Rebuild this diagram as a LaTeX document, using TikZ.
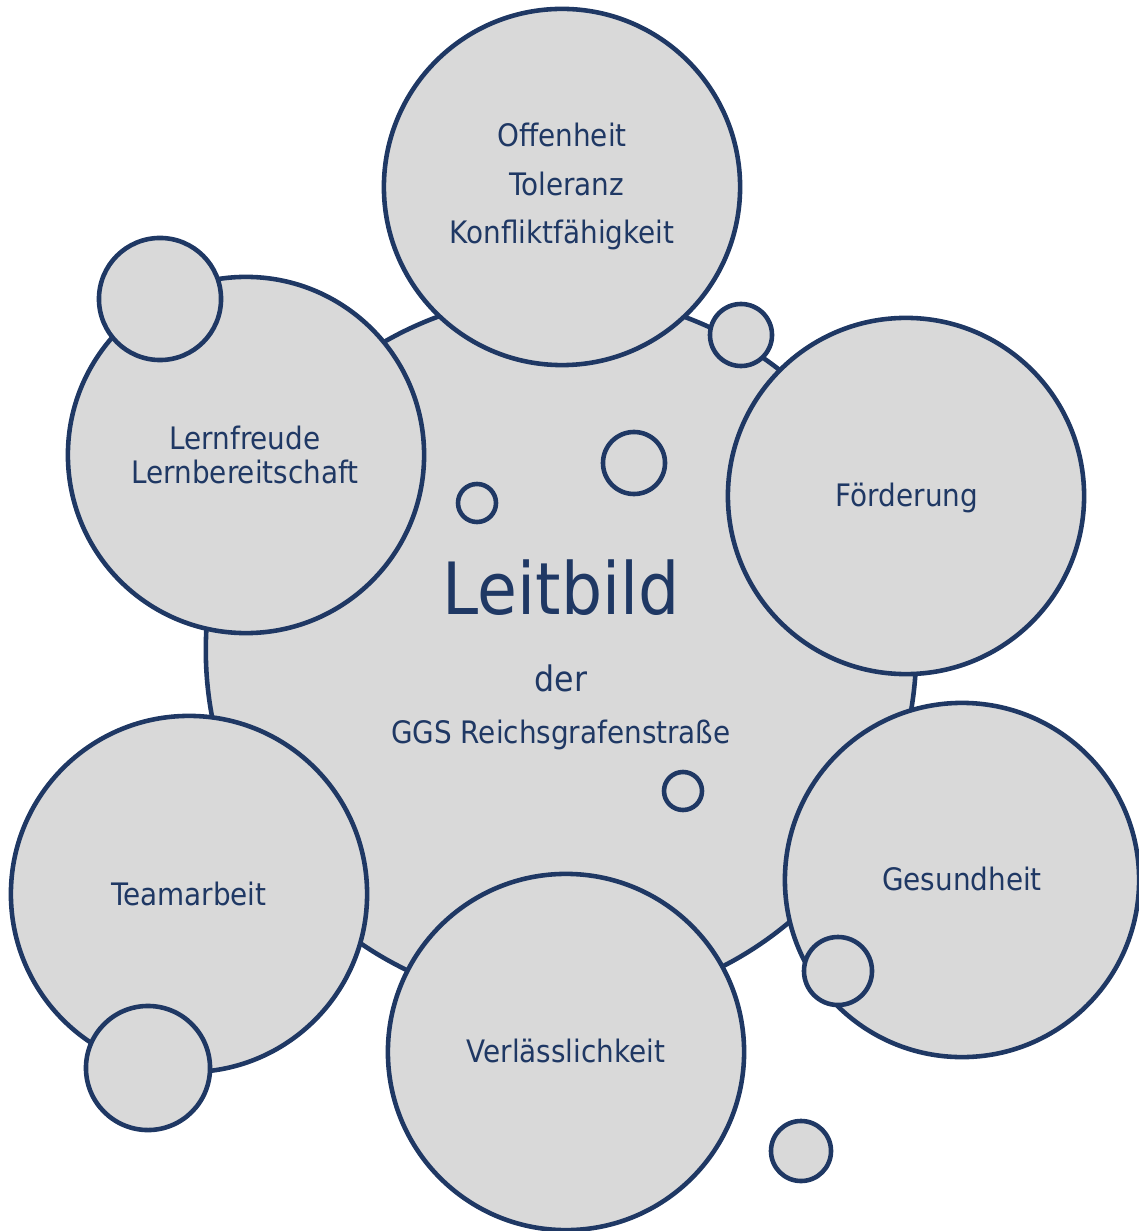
\documentclass[tikz,border=0pt]{standalone}
\usepackage{fontspec}
\setmainfont{DejaVu Sans Condensed}
\definecolor{navy}{HTML}{1F3864}
\definecolor{bub}{HTML}{D9D9D9}
\begin{document}
\begin{tikzpicture}[x=0.01cm,y=-0.01cm,
  bubble/.style={circle,draw=navy,fill=bub,line width=1.3pt,inner sep=0pt,minimum size=#1},
  lbl/.style={text=navy,font=\fontsize{8.8}{10}\selectfont,anchor=base,inner sep=0pt},
]
\useasboundingbox (0,0) rectangle (1138,1231);
% central
\node[bubble=7.1cm] (center) at (561,650) {};
\node[bubble=0.62cm] (s3) at (634,463) {};
\node[bubble=0.38cm] (s4) at (477,503) {};
\node[bubble=0.38cm] (s5) at (683,791) {};
% outer
\node[bubble=3.56cm] (offen) at (562,187) {};
\node[bubble=0.62cm] (s2) at (741,335) {};
\node[bubble=3.56cm] (foerd) at (906,496) {};
\node[bubble=3.54cm] (gesund) at (962,880) {};
\node[bubble=0.68cm] (s6) at (838,971) {};
\node[bubble=3.56cm] (verl) at (566,1052) {};
\node[bubble=3.56cm] (team) at (189,894) {};
\node[bubble=1.24cm] (s7) at (148,1068) {};
\node[bubble=3.56cm] (lern) at (246,455) {};
\node[bubble=1.22cm] (s1) at (160,299) {};
\node[bubble=0.6cm] (s8) at (801,1151) {};
% labels
\node[lbl] (t1) at (562,147) {Offenheit};
\node[lbl] (t2) at (567,196) {Toleranz};
\node[lbl] (t3) at (562,244) {Konfliktfähigkeit};
\node[lbl] (t4) at (245,449) {Lernfreude};
\node[lbl] (t5) at (245,483) {Lernbereitschaft};
\node[lbl] (t6) at (907,507) {Förderung};
\node[lbl,font=\fontsize{20.5}{24}\selectfont] (t7) at (561,614) {Leitbild};
\node[lbl,font=\fontsize{10}{12}\selectfont] (t8) at (561,691) {der};
\node[lbl] (t9) at (561,743) {GGS Reichsgrafenstraße};
\node[lbl] (t10) at (962,890) {Gesundheit};
\node[lbl] (t11) at (189,905) {Teamarbeit};
\node[lbl] (t12) at (566,1062) {Verlässlichkeit};
\end{tikzpicture}
\end{document}
